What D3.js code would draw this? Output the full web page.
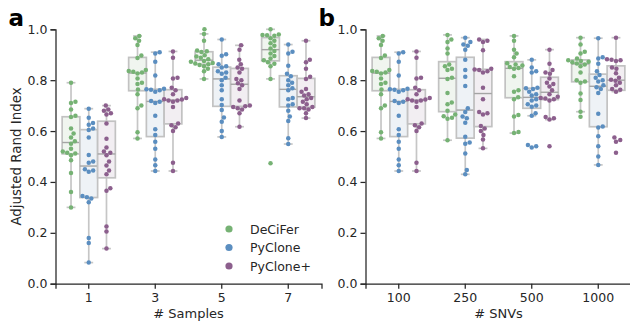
<!DOCTYPE html>
<html>
<head>
<meta charset="utf-8">
<script src="https://cdn.jsdelivr.net/npm/d3@7"></script>
<style>
  body { margin: 0; background: #fff; }
  svg { display: block; font-family: "DejaVu Sans", sans-serif; }
</style>
</head>
<body>
<svg id="chart" width="630" height="321"></svg>
<script>
// categories
const sampleCats = ['1', '3', '5', '7'];
const snvCats = ['100', '250', '500', '1000'];
const methods = ['DeCiFer', 'PyClone', 'PyClone+'];
const yTicks = [0, 0.2, 0.4, 0.6, 0.8, 1.0];

// ARI per simulated instance, one array per category
const samplesDeCiFer = [
  [0.30, 0.36, 0.435, 0.485, 0.505, 0.512, 0.515, 0.52, 0.53, 0.55, 0.56, 0.575, 0.59, 0.61, 0.655, 0.66, 0.685, 0.71, 0.715, 0.79],
  [0.571, 0.595, 0.69, 0.70, 0.745, 0.763, 0.785, 0.79, 0.807, 0.826, 0.83, 0.833, 0.836, 0.84, 0.887, 0.897, 0.938, 0.955, 0.965, 0.974],
  [0.805, 0.835, 0.845, 0.855, 0.86, 0.863, 0.866, 0.868, 0.872, 0.875, 0.882, 0.888, 0.893, 0.898, 0.911, 0.914, 0.917, 0.955, 0.982, 1.0],
  [0.473, 0.805, 0.855, 0.865, 0.87, 0.878, 0.885, 0.895, 0.905, 0.915, 0.925, 0.935, 0.945, 0.955, 0.965, 0.975, 0.977, 0.978, 0.98, 1.0]
];
const samplesPyClone = [
  [0.083, 0.16, 0.18, 0.32, 0.335, 0.34, 0.345, 0.44, 0.445, 0.45, 0.475, 0.48, 0.506, 0.575, 0.604, 0.61, 0.625, 0.632, 0.652, 0.688],
  [0.443, 0.466, 0.488, 0.53, 0.558, 0.585, 0.607, 0.66, 0.71, 0.715, 0.718, 0.755, 0.76, 0.762, 0.764, 0.766, 0.818, 0.872, 0.905, 0.91],
  [0.577, 0.60, 0.637, 0.653, 0.683, 0.702, 0.725, 0.76, 0.78, 0.80, 0.81, 0.825, 0.83, 0.835, 0.85, 0.855, 0.863, 0.896, 0.902, 0.96],
  [0.549, 0.572, 0.64, 0.657, 0.68, 0.70, 0.705, 0.725, 0.73, 0.76, 0.768, 0.78, 0.79, 0.80, 0.815, 0.825, 0.857, 0.905, 0.912, 0.94]
];
const samplesPyClonePlus = [
  [0.138, 0.205, 0.225, 0.365, 0.375, 0.43, 0.445, 0.465, 0.48, 0.505, 0.515, 0.52, 0.535, 0.57, 0.63, 0.665, 0.67, 0.68, 0.685, 0.70],
  [0.443, 0.475, 0.6, 0.615, 0.623, 0.63, 0.695, 0.715, 0.72, 0.72, 0.724, 0.725, 0.73, 0.745, 0.76, 0.77, 0.807, 0.81, 0.888, 0.913],
  [0.617, 0.67, 0.685, 0.69, 0.695, 0.698, 0.70, 0.72, 0.765, 0.78, 0.788, 0.80, 0.805, 0.83, 0.845, 0.85, 0.863, 0.88, 0.92, 0.937],
  [0.651, 0.67, 0.685, 0.69, 0.69, 0.695, 0.705, 0.715, 0.725, 0.73, 0.74, 0.745, 0.755, 0.765, 0.805, 0.813, 0.845, 0.87, 0.88, 0.955]
];
const snvsDeCiFer = [
  [0.571, 0.595, 0.69, 0.70, 0.745, 0.763, 0.785, 0.79, 0.807, 0.826, 0.83, 0.833, 0.836, 0.84, 0.887, 0.897, 0.938, 0.955, 0.965, 0.974],
  [0.564, 0.648, 0.652, 0.658, 0.665, 0.68, 0.705, 0.712, 0.75, 0.805, 0.81, 0.84, 0.845, 0.855, 0.862, 0.905, 0.925, 0.95, 0.96, 0.978],
  [0.592, 0.596, 0.657, 0.663, 0.725, 0.733, 0.755, 0.76, 0.815, 0.845, 0.848, 0.852, 0.858, 0.862, 0.867, 0.89, 0.905, 0.92, 0.955, 0.974],
  [0.656, 0.676, 0.722, 0.748, 0.79, 0.795, 0.80, 0.83, 0.855, 0.862, 0.866, 0.87, 0.872, 0.875, 0.878, 0.885, 0.905, 0.912, 0.94, 0.967]
];
const snvsPyClone = [
  [0.443, 0.466, 0.488, 0.53, 0.558, 0.585, 0.607, 0.66, 0.71, 0.715, 0.718, 0.755, 0.76, 0.762, 0.764, 0.766, 0.818, 0.872, 0.905, 0.91],
  [0.43, 0.447, 0.512, 0.55, 0.555, 0.578, 0.633, 0.65, 0.657, 0.675, 0.69, 0.777, 0.813, 0.84, 0.88, 0.92, 0.935, 0.94, 0.95, 0.967],
  [0.535, 0.54, 0.545, 0.66, 0.67, 0.696, 0.70, 0.705, 0.72, 0.725, 0.74, 0.745, 0.755, 0.765, 0.768, 0.77, 0.83, 0.835, 0.85, 0.88],
  [0.467, 0.50, 0.54, 0.58, 0.614, 0.618, 0.668, 0.75, 0.765, 0.772, 0.78, 0.795, 0.80, 0.81, 0.82, 0.835, 0.865, 0.885, 0.89, 0.965]
];
const snvsPyClonePlus = [
  [0.443, 0.475, 0.6, 0.615, 0.623, 0.63, 0.695, 0.715, 0.72, 0.72, 0.724, 0.725, 0.73, 0.745, 0.76, 0.77, 0.807, 0.81, 0.888, 0.913],
  [0.532, 0.567, 0.585, 0.6, 0.61, 0.62, 0.665, 0.67, 0.675, 0.725, 0.77, 0.83, 0.835, 0.84, 0.842, 0.845, 0.918, 0.95, 0.955, 0.96],
  [0.54, 0.645, 0.65, 0.655, 0.72, 0.725, 0.728, 0.73, 0.735, 0.745, 0.76, 0.775, 0.785, 0.79, 0.807, 0.825, 0.83, 0.84, 0.865, 0.92],
  [0.515, 0.558, 0.565, 0.575, 0.755, 0.762, 0.765, 0.78, 0.79, 0.798, 0.802, 0.81, 0.827, 0.845, 0.85, 0.875, 0.878, 0.88, 0.882, 0.967]
];

const dotColors = ['#76b274', '#5b8ec0', '#8c5f8d'];
const boxFills = ['#f0f5ef', '#eef2f6', '#f2eef2'];
const ink = '#262626';

const svg = d3.select('#chart');
const plotTop = 29.3, plotBottom = 283.7;

const y = d3.scaleLinear().domain([0, 1]).range([plotBottom, plotTop]);

function quartiles(vals) {
  const s = vals.slice().sort(d3.ascending);
  const q1 = d3.quantileSorted(s, 0.25);
  const med = d3.quantileSorted(s, 0.5);
  const q3 = d3.quantileSorted(s, 0.75);
  const iqr = q3 - q1;
  const lo = d3.min(s.filter(v => v >= q1 - 1.5 * iqr));
  const hi = d3.max(s.filter(v => v <= q3 + 1.5 * iqr));
  return { q1, med, q3, lo, hi };
}

// seaborn-like swarm: each point goes to the free spot closest to the centre
function swarm(vals, d) {
  const placed = [];
  vals.slice().sort(d3.ascending).forEach(v => {
    const py = y(v);
    const near = placed.filter(p => Math.abs(p.y - py) < d);
    const cands = [0];
    near.forEach(p => {
      const dx = Math.sqrt(d * d - (p.y - py) * (p.y - py));
      cands.push(p.x + dx, p.x - dx);
    });
    cands.sort((a, b) => Math.abs(a) - Math.abs(b));
    const ok = cands.find(c => near.every(p => Math.hypot(p.x - c, p.y - py) >= d - 1e-6));
    placed.push({ x: ok, y: py, v });
  });
  return placed;
}

function drawPanel(cats, series, x0, x1, xLabel, letter, withLegend) {
  const x = d3.scaleBand().domain(cats).range([x0, x1]).padding(0);
  const g = svg.append('g');
  const bw = x.bandwidth() * 0.8 / 3;
  const r = 2.25;

  series.forEach((groups, m) => {
    groups.forEach((vals, i) => {
      const cx = x(cats[i]) + x.bandwidth() / 2 + (m - 1) * bw;
      const st = quartiles(vals);
      const bg = g.append('g');
      // whiskers
      bg.append('line').attr('x1', cx).attr('x2', cx)
        .attr('y1', y(st.q3)).attr('y2', y(st.hi))
        .attr('stroke', '#c6c6c6').attr('stroke-width', 1.7);
      bg.append('line').attr('x1', cx).attr('x2', cx)
        .attr('y1', y(st.q1)).attr('y2', y(st.lo))
        .attr('stroke', '#c6c6c6').attr('stroke-width', 1.7);
      [st.lo, st.hi].forEach(v => {
        bg.append('line').attr('x1', cx - bw / 4).attr('x2', cx + bw / 4)
          .attr('y1', y(v)).attr('y2', y(v))
          .attr('stroke', '#c6c6c6').attr('stroke-width', 1.7);
      });
      bg.append('rect')
        .attr('x', cx - bw / 2).attr('y', y(st.q3))
        .attr('width', bw).attr('height', y(st.q1) - y(st.q3))
        .attr('fill', boxFills[m]).attr('stroke', '#c2c2c2').attr('stroke-width', 1.7);
      bg.append('line').attr('x1', cx - bw / 2).attr('x2', cx + bw / 2)
        .attr('y1', y(st.med)).attr('y2', y(st.med))
        .attr('stroke', '#a4a4a4').attr('stroke-width', 1.4);
    });
  });

  series.forEach((groups, m) => {
    groups.forEach((vals, i) => {
      const cx = x(cats[i]) + x.bandwidth() / 2 + (m - 1) * bw;
      g.selectAll(null).data(swarm(vals, 2 * r + 0.1)).enter().append('circle')
        .attr('cx', d => cx + d.x).attr('cy', d => d.y).attr('r', r)
        .attr('fill', dotColors[m]);
    });
  });

  const ya = g.append('g').attr('transform', `translate(${x0},0)`)
    .call(d3.axisLeft(y).tickValues(yTicks).tickFormat(d3.format('.1f')).tickSizeOuter(0).tickSize(5).tickPadding(3));
  const xa = g.append('g').attr('transform', `translate(0,${plotBottom})`)
    .call(d3.axisBottom(x).tickSizeOuter(0).tickSize(5).tickPadding(4));
  [ya, xa].forEach(a => {
    a.select('.domain').attr('stroke', ink).attr('stroke-width', 1.25);
    a.selectAll('.tick line').attr('stroke', ink).attr('stroke-width', 1.25);
    a.selectAll('.tick text').attr('fill', ink).style('font-size', '12.5px').style('font-family', 'DejaVu Sans');
  });

  g.append('text').attr('x', (x0 + x1) / 2).attr('y', 318)
    .attr('text-anchor', 'middle').attr('fill', ink)
    .style('font-size', '13px').text(xLabel);

  g.append('text').attr('x', x0 - 47).attr('y', 26)
    .attr('fill', '#000').style('font-size', '23px').style('font-weight', 'bold').text(letter);

  if (withLegend) {
    const lg = g.append('g');
    methods.forEach((name, m) => {
      const ly = 229 + m * 18.5;
      lg.append('circle').attr('cx', 229).attr('cy', ly).attr('r', 3.6).attr('fill', dotColors[m]);
      lg.append('text').attr('x', 250).attr('y', ly + 4.5).attr('fill', ink)
        .style('font-size', '12.5px').text(name);
    });
  }
}

drawPanel(sampleCats, [samplesDeCiFer, samplesPyClone, samplesPyClonePlus], 55.5, 321.5, '# Samples', 'a', true);
drawPanel(snvCats, [snvsDeCiFer, snvsPyClone, snvsPyClonePlus], 365.5, 631.5, '# SNVs', 'b', false);

svg.append('text')
  .attr('transform', `translate(21,${(plotTop + plotBottom) / 2}) rotate(-90)`)
  .attr('text-anchor', 'middle').attr('fill', ink)
  .style('font-size', '13.4px').text('Adjusted Rand Index');
</script>
</body>
</html>
